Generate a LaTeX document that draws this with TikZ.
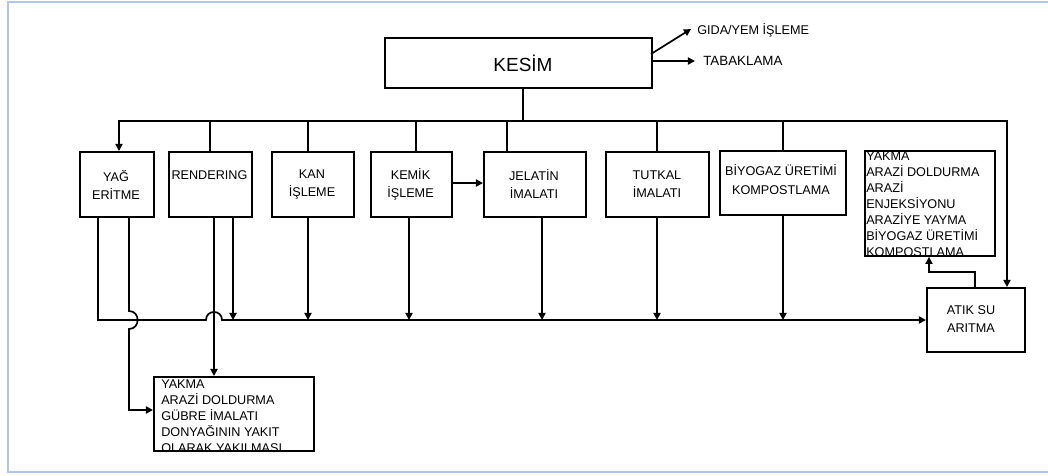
\documentclass[tikz,border=0pt]{standalone}
\usepackage{fontspec}
\setmainfont{Liberation Sans}
\usetikzlibrary{arrows.meta}
\definecolor{framecol}{RGB}{176,198,236}
\tikzset{
  box/.style={draw, line width=1.3pt, inner sep=0pt, anchor=north west},
  lbl/.style={font=\fontsize{9}{13}\selectfont, align=center, inner sep=0pt},
  lst/.style={font=\fontsize{9}{11.3}\selectfont, align=left, inner sep=0pt, anchor=north west},
  ln/.style={line width=1.2pt},
  thk/.style={line width=1.8pt},
  arr/.style={-{Triangle[length=5pt,width=5pt]}},
}
\begin{document}
\begin{tikzpicture}[x=0.025cm, y=-0.025cm]
\useasboundingbox (0,0) rectangle (1048,475);
% frame
\draw[framecol, line width=0.8pt] (1048,2) -- (8,2) -- (8,472) -- (1048,472);

% boxes
\node[box, minimum width=6.675cm, minimum height=1.25cm] (kesim) at (384,37) {};
\node[font=\fontsize{13.5}{15}\selectfont, inner sep=0pt] (kesimt) at (523,63) {KESİM};

\node[box, minimum width=1.85cm, minimum height=1.625cm] (yag) at (79,151) {};
\node[lbl] at (116,185) {YAĞ\\ERİTME};

\node[box, minimum width=2.075cm, minimum height=1.625cm] (rend) at (168,151) {};
\node[lbl] at (209.5,175) {RENDERING};

\node[box, minimum width=2.05cm, minimum height=1.625cm] (kan) at (271,151) {};
\node[lbl] at (312,184.5) {KAN\\İŞLEME};

\node[box, minimum width=2.025cm, minimum height=1.625cm] (kemik) at (370,151) {};
\node[lbl] at (410.5,184.5) {KEMİK\\İŞLEME};

\node[box, minimum width=2.55cm, minimum height=1.625cm] (jel) at (483,151) {};
\node[lbl] at (534,184) {JELATİN\\İMALATI};

\node[box, minimum width=2.575cm, minimum height=1.625cm] (tut) at (605,151) {};
\node[lbl] at (657,184) {TUTKAL\\İMALATI};

\node[box, minimum width=3.15cm, minimum height=1.6cm] (biyo) at (719,150) {};
\node[lbl] at (781,179.5) {BİYOGAZ ÜRETİMİ\\KOMPOSTLAMA};

\node[box, minimum width=3.25cm, minimum height=2.625cm] (rbox) at (864,150) {};
\node[lst] at (866,152) {YAKMA\\ARAZİ DOLDURMA\\ARAZİ\\ENJEKSİYONU\\ARAZİYE YAYMA\\BİYOGAZ ÜRETİMİ\\KOMPOSTLAMA};

\node[box, minimum width=2.45cm, minimum height=1.6cm] (atik) at (926,287) {};
\node[lbl] at (971,319) {ATIK SU\\ARITMA};

\node[box, minimum width=4.0cm, minimum height=1.85cm] (lbox) at (153,376) {};
\node[lst] at (161,380) {YAKMA\\ARAZİ DOLDURMA\\GÜBRE İMALATI\\DONYAĞININ YAKIT\\OLARAK YAKILMASI};

% side outputs of KESIM
\node[font=\fontsize{9}{11}\selectfont, inner sep=0pt, anchor=west] (gida) at (697,30) {GIDA/YEM İŞLEME};
\node[font=\fontsize{9.5}{11}\selectfont, inner sep=0pt, anchor=west] (taba) at (703,61) {TABAKLAMA};
\coordinate (g0) at (651,54);
\coordinate (g1) at (691,29);
\draw[ln, arr] (g0) -- (g1);
\draw[ln, arr] (kesim.east |- taba) -- ([xshift=-0.2cm]taba.west);

% top bus
\coordinate (busL) at (119,121);
\coordinate (busR) at (1007,121);
\coordinate (kx) at (523,121);
\draw[ln] (kesim.south -| kx) -- (kx);
\draw[ln, {Triangle[length=5pt,width=5pt]}-{Triangle[length=5pt,width=5pt]}] (busL |- yag.north) -- (busL) -- (busR) -- (busR |- atik.north);
\foreach \xx/\nn in {210/rend, 308/kan, 416/kemik, 507/jel, 657/tut, 783/biyo}{
  \draw[ln] (\xx,121) -- (\nn.north -| \xx,0);
}

% kemik -> jelatin
\draw[thk, arr] (kemik.east |- 0,183) -- (jel.west |- 0,183);

% lower bus
\coordinate (lb0) at (98,320);
\draw[ln, arr] (yag.south -| lb0) -- (lb0) -- (206,320)
   .. controls (206,309.3) and (222,309.3) .. (222,320) -- (atik.west |- 0,320);
% yag second output jumping over the lower bus
\coordinate (y2) at (129,410);
\draw[ln, arr] (yag.south -| y2) -- (129,311)
   .. controls (140.5,311) and (140.5,329) .. (129,329) -- (y2) -- (lbox.west |- y2);

% rendering outputs
\draw[thk, arr] (rend.south -| 214,0) -- (lbox.north -| 214,0);
\draw[thk, arr] (rend.south -| 233,0) -- (233,320);

% other outputs to lower bus
\foreach \xx/\nn in {308/kan, 409/kemik, 542/jel, 657/tut, 783/biyo}{
  \draw[ln, arr] (\nn.south -| \xx,0) -- (\xx,320);
}

% atik -> right box
\coordinate (a1) at (975,272);
\coordinate (a2) at (929,272);
\draw[ln, arr] (atik.north -| a1) -- (a1) -- (a2) -- (rbox.south -| a2);
\end{tikzpicture}
\end{document}
